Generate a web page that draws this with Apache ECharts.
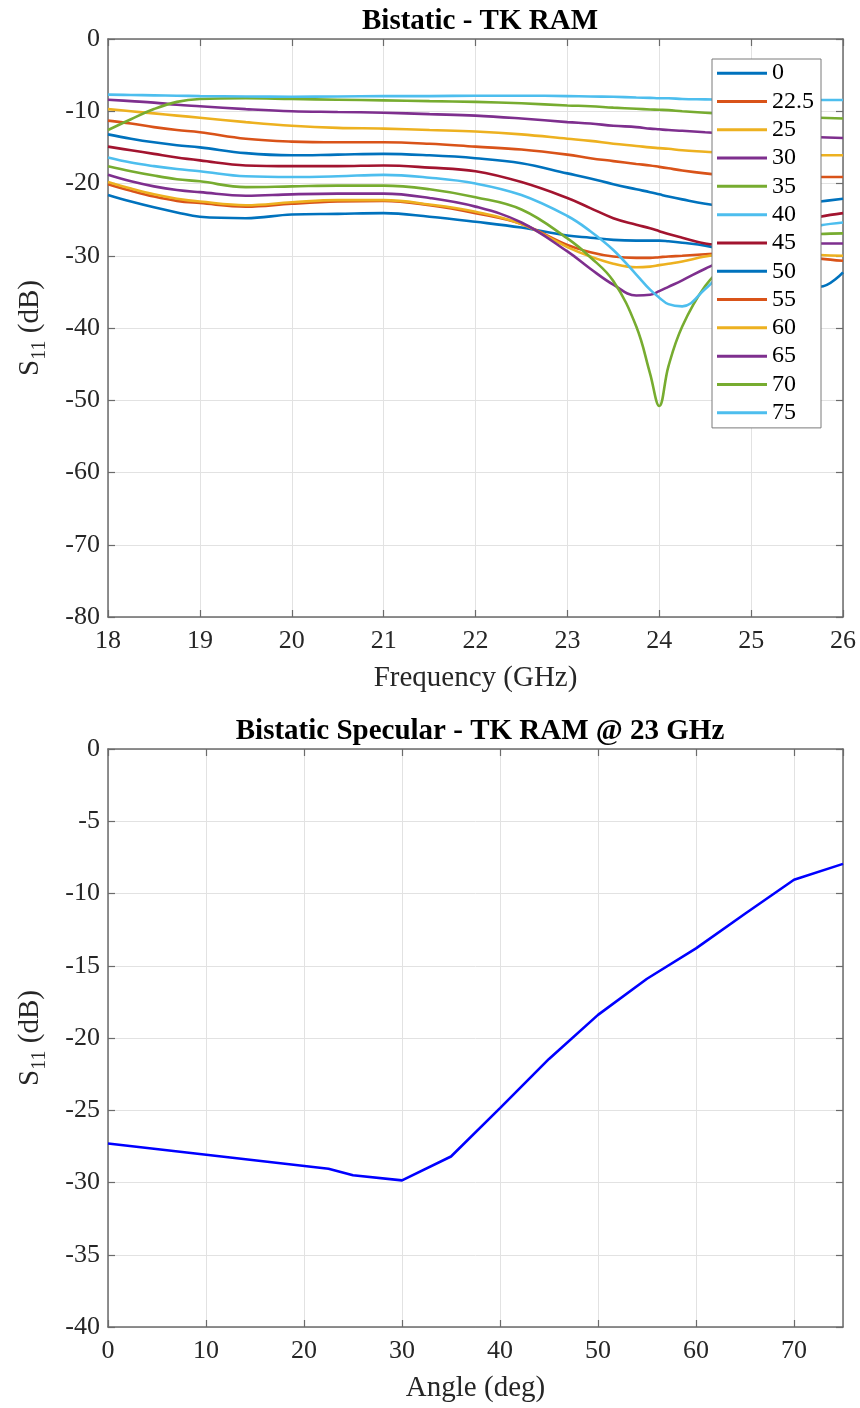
<!DOCTYPE html>
<html>
<head>
<meta charset="utf-8">
<script src="https://cdn.jsdelivr.net/npm/echarts@6/dist/echarts.min.js"></script>
<style>
html,body{margin:0;padding:0;background:#fff;}
#c{width:860px;height:1408px;}
</style>
</head>
<body>
<div id="c"></div>
<script>
// ---------- Top chart data: S11 (dB) vs frequency for each bistatic angle ----------
const freq = [18, 18.25, 18.5, 18.75, 19, 19.5, 20, 20.5, 21, 21.5, 22, 22.5, 23, 23.25, 23.5, 23.75, 23.9, 24, 24.1, 24.25, 24.5, 24.75, 25, 25.25, 25.5, 25.75, 26];
const angleNames = ['0', '22.5', '25', '30', '35', '40', '45', '50', '55', '60', '65', '70', '75'];
const a0   = [-21.6, -22.5, -23.3, -24.0, -24.6, -24.8, -24.3, -24.2, -24.1, -24.6, -25.3, -26.1, -27.2, -27.5, -27.8, -27.9, -27.9, -27.9, -28.0, -28.2, -28.6, -29.3, -30.3, -31.6, -33.0, -34.3, -32.3];
const a225 = [-20.1, -21.0, -21.8, -22.4, -22.7, -23.2, -22.8, -22.5, -22.4, -23.0, -24.1, -25.6, -28.5, -29.5, -30.1, -30.3, -30.3, -30.2, -30.1, -30.0, -29.8, -29.6, -29.5, -29.6, -29.9, -30.4, -30.7];
const a25  = [-19.8, -20.7, -21.5, -22.1, -22.5, -23.0, -22.6, -22.3, -22.3, -22.9, -23.9, -25.6, -28.8, -30.1, -31.1, -31.6, -31.5, -31.3, -31.1, -30.8, -30.1, -29.7, -29.5, -29.6, -29.7, -29.9, -30.0];
const a30  = [-18.8, -19.7, -20.4, -20.9, -21.2, -21.7, -21.5, -21.4, -21.4, -22.0, -23.2, -25.4, -29.4, -31.8, -34.0, -35.5, -35.4, -34.9, -34.3, -33.4, -31.8, -30.4, -29.5, -28.9, -28.5, -28.3, -28.3];
const a35  = [-17.6, -18.3, -18.9, -19.4, -19.7, -20.5, -20.4, -20.3, -20.3, -20.8, -21.9, -23.6, -27.6, -30.2, -33.5, -39.8, -46.3, -50.8, -45.3, -39.8, -34.2, -31.0, -29.2, -28.1, -27.4, -27.0, -26.9];
const a40  = [-16.4, -17.1, -17.6, -18.0, -18.3, -19.0, -19.1, -19.0, -18.8, -19.2, -20.0, -21.6, -24.5, -26.6, -29.2, -32.6, -34.7, -35.8, -36.7, -37.0, -34.6, -31.5, -29.0, -27.5, -26.5, -25.8, -25.4];
const a45  = [-14.9, -15.4, -15.9, -16.4, -16.8, -17.5, -17.6, -17.6, -17.5, -17.8, -18.3, -19.8, -22.0, -23.4, -24.8, -25.7, -26.2, -26.6, -27.0, -27.5, -28.3, -28.5, -27.6, -26.4, -25.4, -24.6, -24.1];
const a50  = [-13.2, -13.8, -14.3, -14.7, -15.0, -15.8, -16.1, -16.0, -15.9, -16.1, -16.5, -17.2, -18.6, -19.3, -20.1, -20.8, -21.2, -21.5, -21.8, -22.2, -22.8, -23.2, -23.3, -23.2, -22.9, -22.5, -22.1];
const a55  = [-11.3, -11.7, -12.2, -12.6, -12.9, -13.8, -14.2, -14.3, -14.3, -14.5, -14.9, -15.3, -16.0, -16.5, -16.9, -17.3, -17.5, -17.7, -17.9, -18.2, -18.6, -18.9, -19.1, -19.2, -19.2, -19.1, -19.1];
const a60  = [-9.7, -10.0, -10.3, -10.6, -10.9, -11.5, -12.0, -12.3, -12.4, -12.6, -12.8, -13.2, -13.8, -14.1, -14.5, -14.8, -15.0, -15.1, -15.2, -15.4, -15.6, -15.8, -15.9, -16.0, -16.0, -16.1, -16.1];
const a65  = [-8.4, -8.6, -8.8, -9.1, -9.3, -9.7, -10.0, -10.1, -10.2, -10.4, -10.6, -11.0, -11.5, -11.7, -12.0, -12.2, -12.4, -12.5, -12.6, -12.7, -12.9, -13.1, -13.3, -13.4, -13.5, -13.6, -13.7];
const a70  = [-12.6, -11.1, -9.7, -8.7, -8.3, -8.2, -8.3, -8.4, -8.5, -8.6, -8.7, -8.9, -9.2, -9.3, -9.5, -9.65, -9.75, -9.8, -9.85, -10.0, -10.2, -10.4, -10.6, -10.7, -10.8, -10.9, -11.0];
const a75  = [-7.7, -7.75, -7.8, -7.85, -7.9, -7.95, -8.0, -7.95, -7.9, -7.9, -7.85, -7.85, -7.9, -7.95, -8.0, -8.1, -8.15, -8.2, -8.2, -8.3, -8.35, -8.4, -8.4, -8.4, -8.4, -8.45, -8.45];
const topSeriesValues = [a0, a225, a25, a30, a35, a40, a45, a50, a55, a60, a65, a70, a75];
const freqTicks = [18, 19, 20, 21, 22, 23, 24, 25, 26];

// ---------- Bottom chart data: S11 at 23 GHz vs angle ----------
const angles = [0, 22.5, 25, 30, 35, 40, 45, 50, 55, 60, 65, 70, 75];
const s11At23 = [-27.3, -29.05, -29.5, -29.85, -28.2, -24.85, -21.45, -18.4, -15.9, -13.8, -11.4, -9.05, -7.95];

const colors = ['#0072BD', '#D95319', '#EDB120', '#7E2F8E', '#77AC30', '#4DBEEE', '#A2142F'];
const FONT = '"Liberation Serif", "Times New Roman", serif';
const TXT = '#262626';
const AX = '#6b6b6b';
const GRIDC = '#e2e2e2';

function zip(xs, ys) { return xs.map((x, i) => [x, ys[i]]); }

function mainX(gridIndex, min, max, interval, name, showMax) {
  return {
    type: 'value', gridIndex, min, max, interval, position: 'bottom',
    name, nameLocation: 'middle', nameGap: 47,
    nameTextStyle: { fontFamily: FONT, fontSize: 29, color: TXT },
    axisLine: { show: true, onZero: false, lineStyle: { color: AX, width: 1.5 } },
    axisTick: { show: true, inside: true, length: 7, lineStyle: { color: AX, width: 1.2 } },
    axisLabel: { show: true, margin: 11, fontFamily: FONT, fontSize: 26, color: TXT, showMinLabel: true, showMaxLabel: showMax, hideOverlap: false },
    splitLine: { show: true, lineStyle: { color: GRIDC, width: 1 } }
  };
}
function mirrorX(gridIndex, min, max, interval) {
  return {
    type: 'value', gridIndex, min, max, interval, position: 'top',
    axisLine: { show: true, onZero: false, lineStyle: { color: AX, width: 1.5 } },
    axisTick: { show: true, inside: true, length: 7, lineStyle: { color: AX, width: 1.2 } },
    axisLabel: { show: false }, splitLine: { show: false }
  };
}
function mainY(gridIndex, min, max, interval) {
  return {
    type: 'value', gridIndex, min, max, interval, position: 'left',
    name: '{s|S}{sub|11}{s| (dB)}', nameLocation: 'middle', nameGap: 58, nameRotate: 90,
    nameTextStyle: {
      rich: {
        s: { fontFamily: FONT, fontSize: 29, color: TXT, lineHeight: 40, verticalAlign: 'middle' },
        sub: { fontFamily: FONT, fontSize: 20, color: TXT, lineHeight: 20, verticalAlign: 'bottom' }
      }
    },
    axisLine: { show: true, onZero: false, lineStyle: { color: AX, width: 1.5 } },
    axisTick: { show: true, inside: true, length: 7, lineStyle: { color: AX, width: 1.2 } },
    axisLabel: { show: true, margin: 8, fontFamily: FONT, fontSize: 26, color: TXT, showMinLabel: true, showMaxLabel: true, hideOverlap: false },
    splitLine: { show: true, lineStyle: { color: GRIDC, width: 1 } }
  };
}
function mirrorY(gridIndex, min, max, interval) {
  return {
    type: 'value', gridIndex, min, max, interval, position: 'right',
    axisLine: { show: true, onZero: false, lineStyle: { color: AX, width: 1.5 } },
    axisTick: { show: true, inside: true, length: 7, lineStyle: { color: AX, width: 1.2 } },
    axisLabel: { show: false }, splitLine: { show: false }
  };
}

const topSeries = topSeriesValues.map((vals, i) => ({
  name: angleNames[i], type: 'line', xAxisIndex: 0, yAxisIndex: 0,
  data: zip(freq, vals), showSymbol: false, symbol: 'none',
  smooth: 0.4,
  lineStyle: { width: 2.6, color: colors[i % colors.length] },
  itemStyle: { color: colors[i % colors.length] },
  z: 3
}));

const option = {
  animation: false,
  backgroundColor: '#ffffff',
  title: [
    { text: 'Bistatic - TK RAM', left: 475, top: 2, textAlign: 'center',
      textStyle: { fontFamily: FONT, fontSize: 29, fontWeight: 'bold', color: '#000' } },
    { text: 'Bistatic Specular - TK RAM @ 23 GHz', left: 475, top: 712, textAlign: 'center',
      textStyle: { fontFamily: FONT, fontSize: 29, fontWeight: 'bold', color: '#000' } }
  ],
  grid: [
    { left: 108, top: 39, width: 735, height: 578, outerBoundsMode: 'none', containLabel: false },
    { left: 108, top: 749, width: 735, height: 578, outerBoundsMode: 'none', containLabel: false }
  ],
  xAxis: [
    mainX(0, freqTicks[0], freqTicks[freqTicks.length - 1], 1, 'Frequency (GHz)', true),
    mirrorX(0, 18, 26, 1),
    mainX(1, 0, 75, 10, 'Angle (deg)', false),
    mirrorX(1, 0, 75, 10)
  ],
  yAxis: [
    mainY(0, -80, 0, 10),
    mirrorY(0, -80, 0, 10),
    mainY(1, -40, 0, 5),
    mirrorY(1, -40, 0, 5)
  ],
  legend: {
    data: angleNames, orient: 'vertical', left: 712, top: 59,
    padding: [2, 7, 3, 5], itemWidth: 50, itemHeight: 3, itemGap: 4, icon: 'rect',
    textStyle: { fontFamily: FONT, fontSize: 24, color: '#000', lineHeight: 24.3 },
    borderColor: '#7a7a7a', borderWidth: 1, backgroundColor: '#ffffff',
    selectedMode: false, z: 10
  },
  series: topSeries.concat([{
    name: 'specular', type: 'line', xAxisIndex: 2, yAxisIndex: 2,
    data: zip(angles, s11At23), showSymbol: false, symbol: 'none', smooth: false,
    lineStyle: { width: 2.6, color: '#0000FF' }, itemStyle: { color: '#0000FF' }
  }])
};

const chart = echarts.init(document.getElementById('c'), null, { renderer: 'canvas' });
chart.setOption(option);
</script>
</body>
</html>
